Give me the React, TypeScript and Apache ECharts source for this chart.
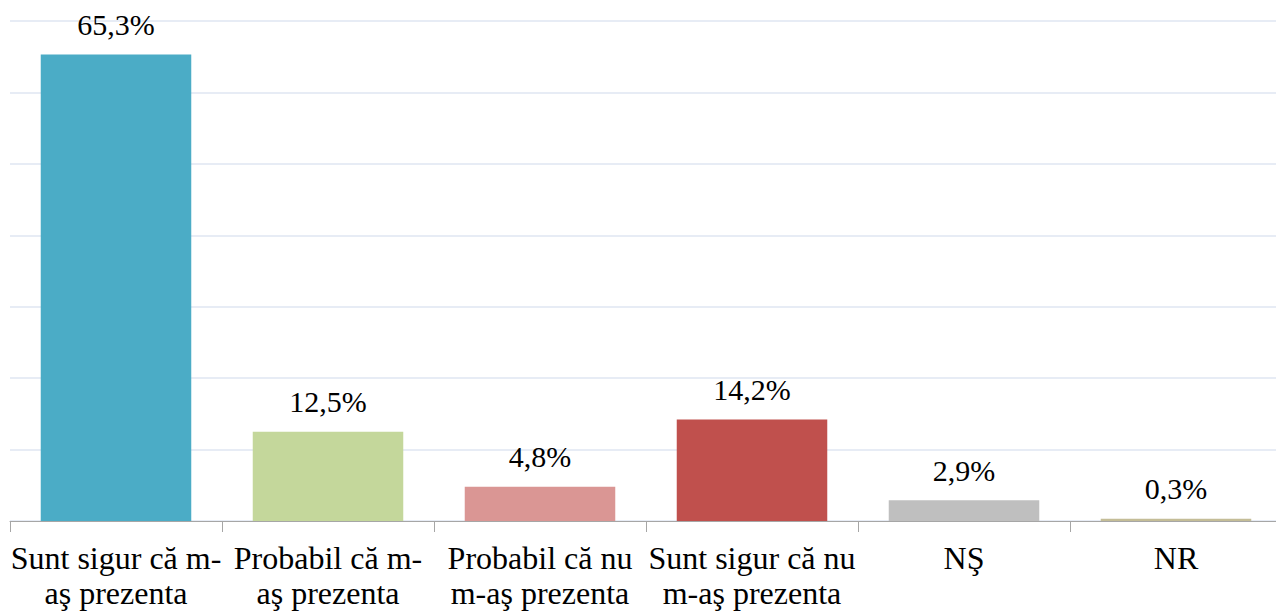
import React, { useEffect, useRef } from "react";
import * as echarts from "echarts";

const categories = [
  "Sunt sigur că m-\naş prezenta",
  "Probabil că m-\naş prezenta",
  "Probabil că nu\nm-aş prezenta",
  "Sunt sigur că nu\nm-aş prezenta",
  "NŞ",
  "NR",
];
const values = [65.3, 12.5, 4.8, 14.2, 2.9, 0.3];
const colors = ["#4BACC6", "#C4D79B", "#DA9694", "#C0504D", "#BFBFBF", "#C4BD97"];
const yTicks = { min: 0, max: 70, interval: 10 };

const FONT = "Liberation Serif, Times New Roman, serif";

export default function App() {
  const ref = useRef<HTMLDivElement>(null);
  useEffect(() => {
    if (!ref.current) return;
    const chart = echarts.init(ref.current, null, { renderer: "svg" });
    chart.setOption({
      animation: false,
      backgroundColor: "#ffffff",
      grid: { left: 10, top: 21, width: 1272, height: 500, containLabel: false, outerBoundsMode: "none" },
      xAxis: {
        type: "category",
        data: categories,
        axisLine: { show: true, lineStyle: { color: "#a6a6a6", width: 1 } },
        axisTick: { show: true, length: 11, alignWithLabel: false, lineStyle: { color: "#a6a6a6" } },
        axisLabel: {
          interval: 0,
          margin: 19,
          fontFamily: FONT,
          fontSize: 32,
          lineHeight: 35,
          color: "#000000",
        },
      },
      yAxis: {
        type: "value",
        min: yTicks.min,
        max: yTicks.max,
        interval: yTicks.interval,
        axisLabel: { show: false },
        axisLine: { show: false },
        axisTick: { show: false },
        splitLine: { show: true, lineStyle: { color: "#dfe6f2", width: 1.5 } },
      },
      series: [
        {
          type: "bar",
          barCategoryGap: "29%",
          data: values.map((v, i) => ({ value: v, itemStyle: { color: colors[i] } })),
          label: {
            show: true,
            position: "top",
            distance: 15,
            fontFamily: FONT,
            fontSize: 30,
            color: "#000000",
            formatter: (p: any) => `${Number(p.value).toFixed(1).replace(".", ",")}%`,
          },
        },
      ],
    });
    return () => chart.dispose();
  }, []);
  return (
    <div
      ref={ref}
      style={{ position: "fixed", left: 0, top: 0, width: 1290, height: 612, background: "#fff" }}
    />
  );
}
